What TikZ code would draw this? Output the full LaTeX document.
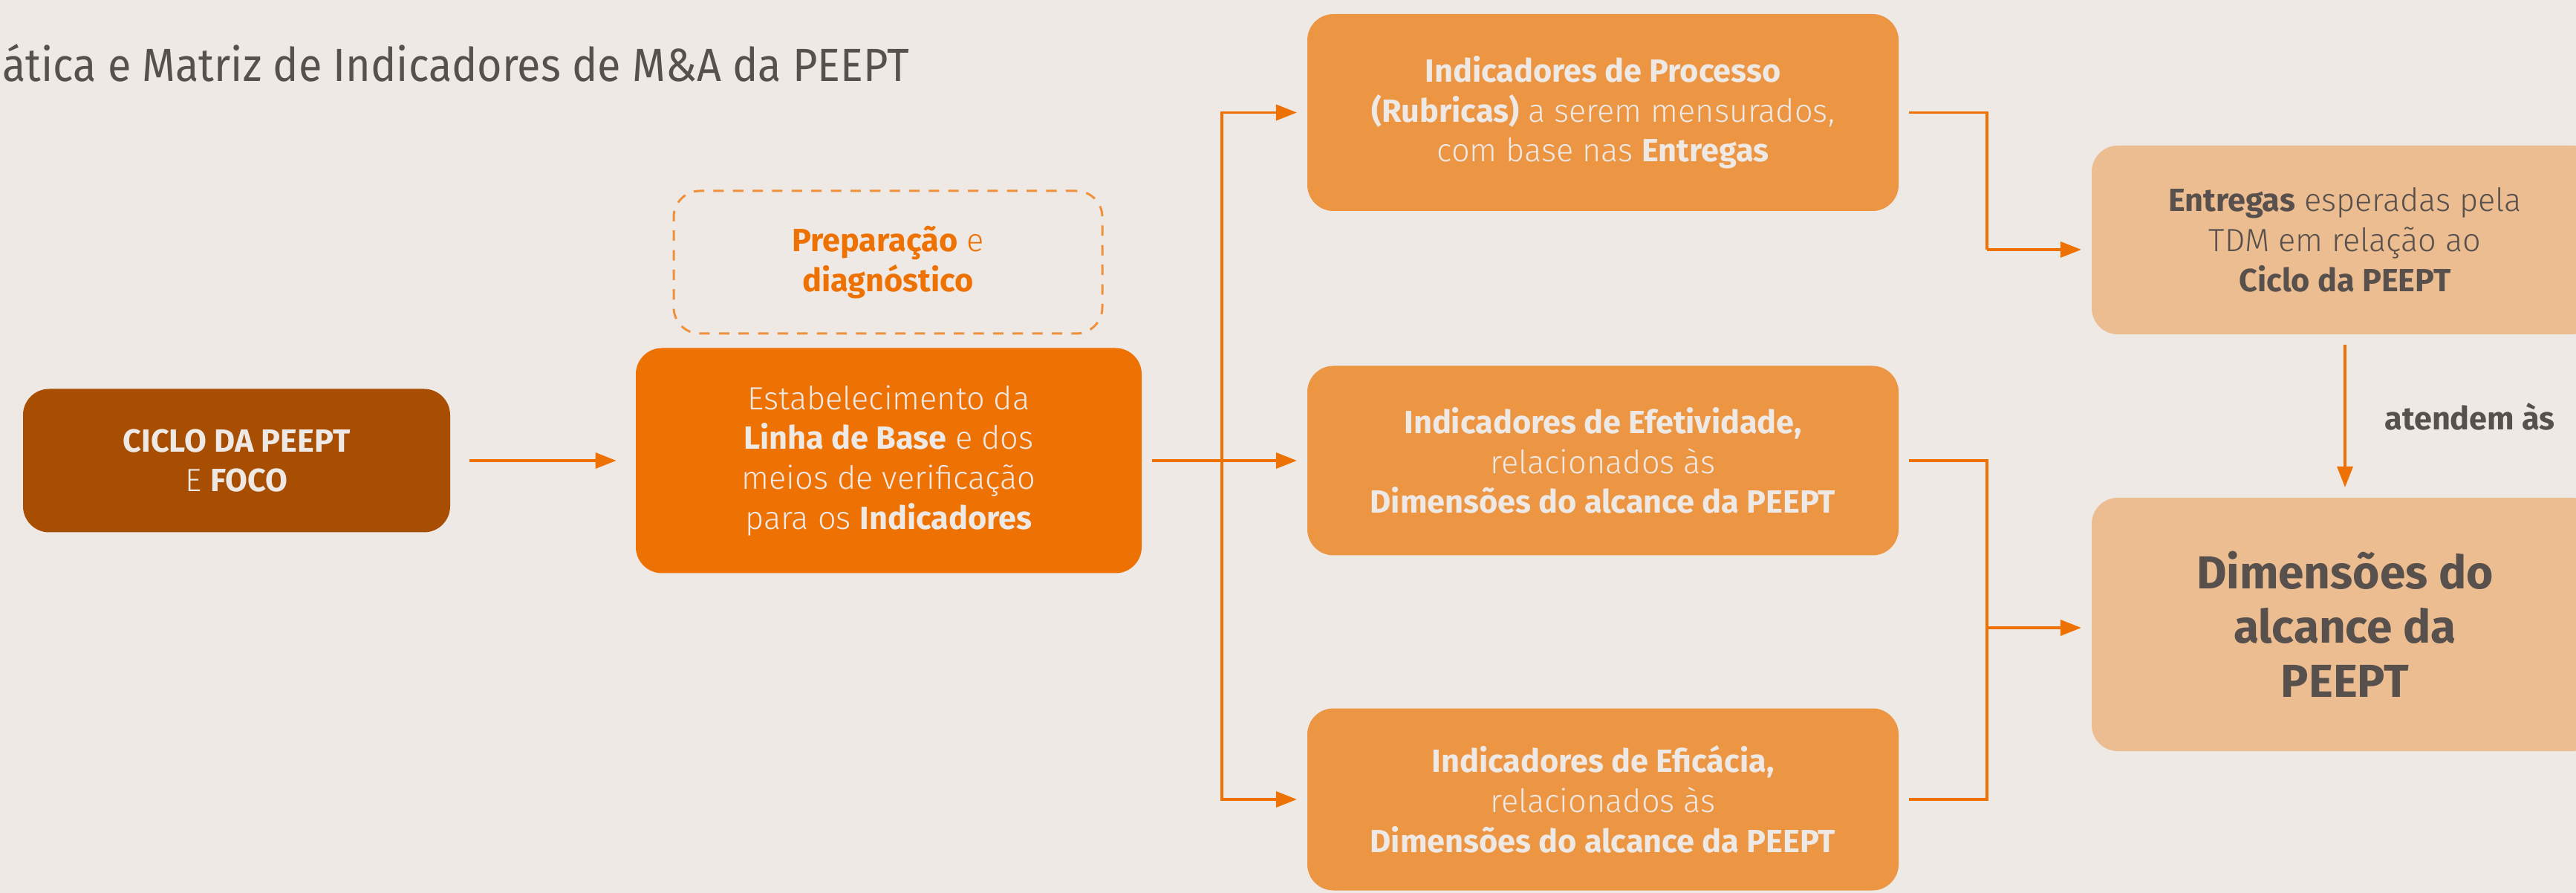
\documentclass[tikz,border=0pt]{standalone}
\usepackage{fontspec}
\setmainfont{Fira Sans Light}[BoldFont=Fira Sans Bold]
\newfontfamily\titlefont{Fira Sans}[FakeStretch=0.92]
\usepackage{tikz}
\usetikzlibrary{arrows.meta}
\definecolor{bg}{HTML}{EEE9E5}
\definecolor{brown}{HTML}{A84E03}
\definecolor{orng}{HTML}{EE7203}
\definecolor{midorng}{HTML}{EC9543}
\definecolor{peach}{HTML}{EDBD92}
\definecolor{ink}{HTML}{57504D}

\begin{document}
\begin{tikzpicture}[>={Triangle[length=8pt, width=6pt]}, line width=1pt,
    box/.style={rounded corners=10pt, inner sep=0pt, outer sep=4pt, align=center,
        font=\fontsize{12.3}{15.3}\selectfont},
    darkbox/.style={box, fill=brown, text=bg},
    mainbox/.style={box, fill=orng, text=bg},
    midbox/.style={box, fill=midorng, text=bg, minimum width=7.96cm},
    lightbox/.style={box, fill=peach, text=ink, minimum width=6.82cm},
    dashbox/.style={box, draw=orng!75!bg, line width=0.85pt, dash pattern=on 4pt off 3.5pt, text=orng},
    link/.style={draw=orng}]
    \useasboundingbox (0, 0) rectangle (34.68, -12.02);
    \fill[bg] (0, 0) rectangle (34.68, -12.02);

    \node[anchor=base west, text=ink, font=\titlefont\fontsize{17.8}{20}\selectfont] (titulo) at (-0.1, -1.10) {ática e Matriz de Indicadores de M\&A da PEEPT};

    \node[darkbox, minimum width=5.75cm, minimum height=1.93cm] (ciclo) at (3.185, -6.2) {\textbf{CICLO DA PEEPT}\\E \textbf{FOCO}};
    \node[dashbox, minimum width=5.77cm, minimum height=1.92cm] (prep) at (11.955, -3.53) {\textbf{Preparação} e\\\textbf{diagnóstico}};
    \node[mainbox, minimum width=6.81cm, minimum height=3.03cm] (linha) at (11.965, -6.2) {Estabelecimento da\\\textbf{Linha de Base} e dos\\meios de verificação\\para os \textbf{Indicadores}};

    \node[midbox, minimum height=2.65cm] (proc) at (21.58, -1.515) {\textbf{Indicadores de Processo}\\\textbf{(Rubricas)} a serem mensurados,\\com base nas \textbf{Entregas}};
    \node[midbox, minimum height=2.55cm] (efet) at (21.58, -6.2) {\textbf{Indicadores de Efetividade,}\\relacionados às\\\textbf{Dimensões do alcance da PEEPT}};
    \node[midbox, minimum height=2.45cm] (efic) at (21.58, -10.76) {\textbf{Indicadores de Eficácia,}\\relacionados às\\\textbf{Dimensões do alcance da PEEPT}};

    \node[lightbox, minimum height=2.54cm] (entreg) at (31.57, -3.23) {\textbf{Entregas} esperadas pela\\TDM em relação ao\\\textbf{Ciclo da PEEPT}};
    \node[lightbox, minimum height=3.41cm, font=\bfseries\fontsize{17.7}{20.8}\selectfont] (dimen) at (31.57, -8.405) {Dimensões do\\alcance da\\PEEPT};
    \node[anchor=base west, text=ink, font=\bfseries\fontsize{12.3}{15}\selectfont] (atendem) at (31.97, -5.79) {atendem às};

    \coordinate (split) at (16.45, -6.2);
    \coordinate (j1) at (26.75, -3.36);
    \coordinate (j2) at (26.75, -8.45);

    \draw[link, ->, shorten <=3.5pt, shorten >=3.5pt] (ciclo) -- (linha);
    \draw[link] (linha) -- (split);
    \draw[link, ->] (split) |- (proc);
    \draw[link, ->] (split) -- (efet);
    \draw[link, ->] (split) |- (efic);
    \draw[link] (proc) -| (j1);
    \draw[link, ->] (j1) -- (j1 -| entreg.west);
    \draw[link] (efet) -| (j2);
    \draw[link] (efic) -| (j2);
    \draw[link, ->] (j2) -- (j2 -| dimen.west);
    \draw[link, ->] (entreg) -- (dimen);
\end{tikzpicture}
\end{document}
